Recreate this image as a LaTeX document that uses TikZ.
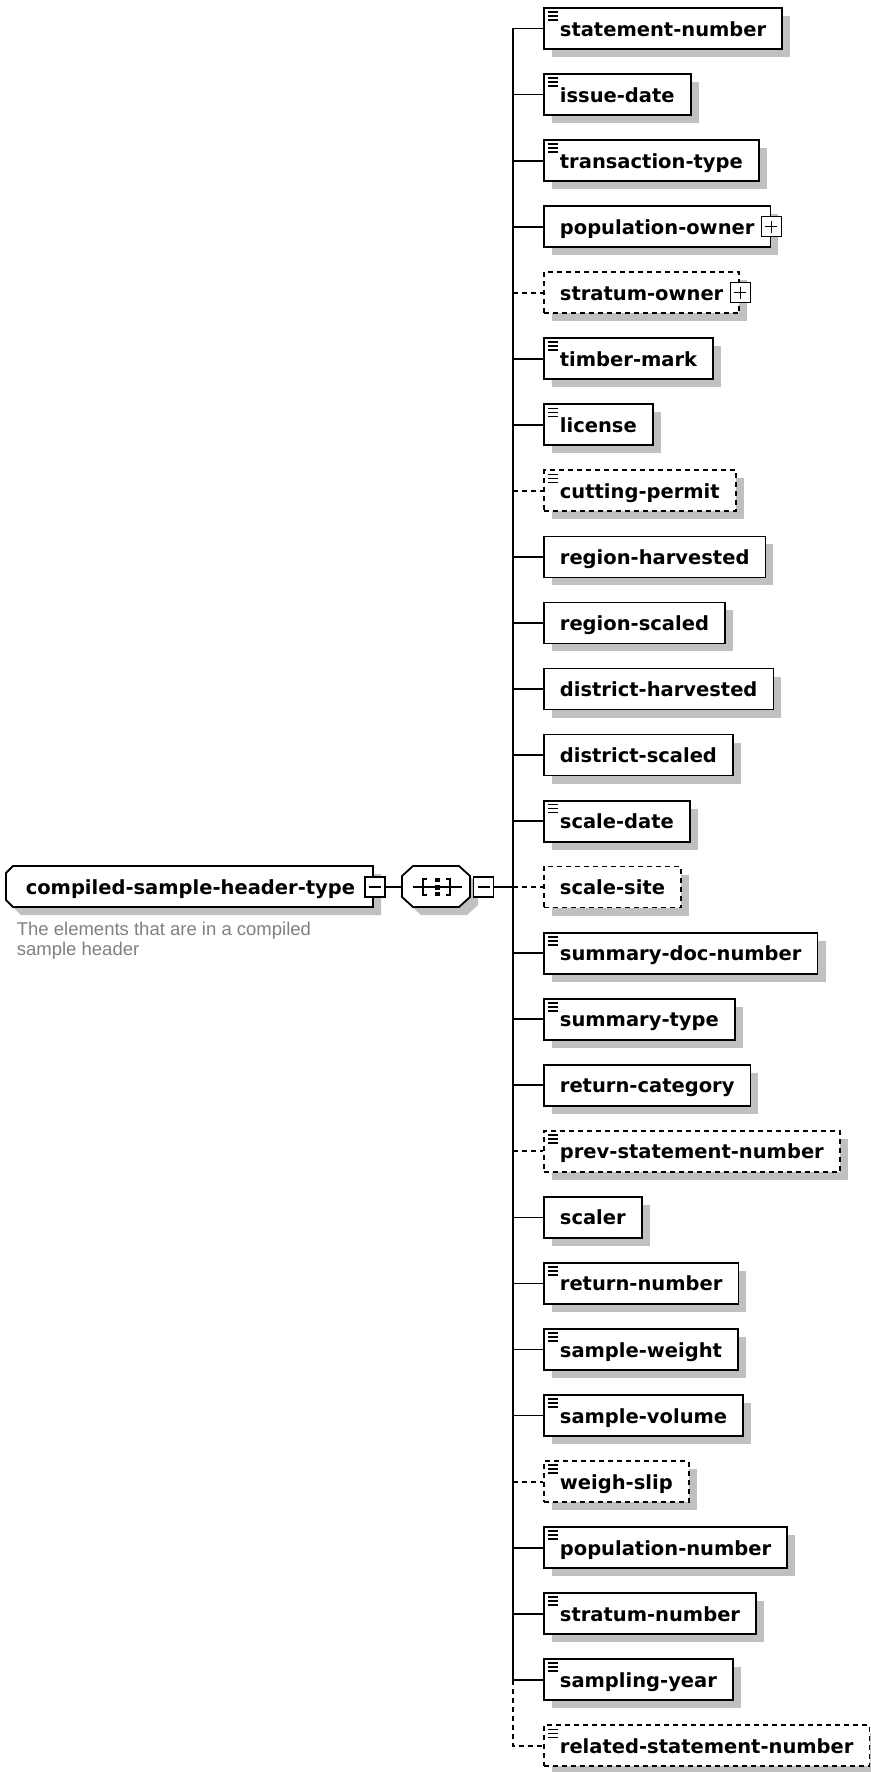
\documentclass[tikz,border=0pt]{standalone}
\usepackage{fontspec}
\setmainfont{DejaVu Sans}
\newfontfamily\notefont{Liberation Sans}
\usetikzlibrary{shadows,positioning}

\definecolor{shadowgray}{RGB}{192,192,192}
\definecolor{notegray}{RGB}{128,128,128}

\begin{document}
\begin{tikzpicture}[x=1pt,y=-1pt,line width=1.8pt,
    boxshadow/.style={drop shadow={shadow xshift=8pt,shadow yshift=-8pt,fill=shadowgray,opacity=1}},
    elem/.style={draw,fill=white,anchor=west,inner xsep=16pt,inner ysep=0pt,
      minimum height=41pt,text height=19pt,text depth=4pt,
      font=\fontsize{19.5}{22}\selectfont\bfseries,boxshadow},
    opt/.style={dash pattern=on 5pt off 4pt},
    doc/.style={path picture={\draw[line width=1.6pt,solid]
      ([shift={(4pt,-4pt)}]path picture bounding box.north west) -- ++(10pt,0pt)
      ([shift={(4pt,-8pt)}]path picture bounding box.north west) -- ++(10pt,0pt)
      ([shift={(4pt,-12pt)}]path picture bounding box.north west) -- ++(10pt,0pt);}},
    togglebox/.style={draw,fill=white,solid,line width=1.4pt,minimum size=20pt,inner sep=0pt},
    plusbox/.style={togglebox,path picture={\draw[line width=1.4pt]
      ([xshift=-6pt]path picture bounding box.center) -- ([xshift=6pt]path picture bounding box.center)
      ([yshift=-6pt]path picture bounding box.center) -- ([yshift=6pt]path picture bounding box.center);}},
    minusbox/.style={togglebox,path picture={\draw[line width=1.4pt]
      ([xshift=-6pt]path picture bounding box.center) -- ([xshift=6pt]path picture bounding box.center);}},
    typebox/.style={anchor=west,minimum width=367pt,minimum height=41pt,inner sep=0pt,
      text height=19pt,text depth=4pt,font=\fontsize{19.5}{22}\selectfont\bfseries},
    seqbox/.style={minimum width=68pt,minimum height=41pt,inner sep=0pt},
    note/.style={anchor=north west,inner sep=0pt,align=left,text=notegray,
      font=\notefont\fontsize{18.5}{20}\selectfont}
  ]
\useasboundingbox (0,0) rectangle (870,1772);

% complex type and its sequence
\fill[shadowgray] (21,874) -- (381,874) -- (381,915) -- (21,915) -- (14,908) -- (14,881) -- cycle;
\draw[fill=white] (13,866) -- (373,866) -- (373,907) -- (13,907) -- (6,900) -- (6,873) -- cycle;
\fill[shadowgray] (421,874) -- (467,874) -- (478,884) -- (478,905) -- (467,915) -- (421,915) -- (410,905) -- (410,884) -- cycle;
\draw[fill=white] (413,866) -- (459,866) -- (470,876) -- (470,897) -- (459,907) -- (413,907) -- (402,897) -- (402,876) -- cycle;
\node[typebox] (cshtype) at (6,887) {compiled-sample-header-type\hspace{16pt}};
\node[minusbox] (cshtypem) at (cshtype.east) {};
\node[note] (cshnote) at (16,921) {The elements that are in a compiled\\sample header};
\node[seqbox] (seq) at (436,887) {};
\node[minusbox,right=2pt of seq] (seqm) {};
\begin{scope}[shift={(seq.center)},line width=1.3pt]
  \draw (-23,0) -- (26,0);
  \draw (-9,-8) -- (-13,-8) -- (-13,8) -- (-9,8);
  \draw (10,-8) -- (14,-8) -- (14,8) -- (10,8);
  \fill (-1,-9) rectangle (4,-5);
  \fill (-1,-2.5) rectangle (4,2.5);
  \fill (-1,5) rectangle (4,9);
\end{scope}
\coordinate (spine) at (513,887);

% child elements
\node[elem,doc] (statement) at (543,28.5) {statement-number};
\node[elem,doc] (issue) at (543,94.55) {issue-date};
\node[elem,doc] (transaction) at (543,160.6) {transaction-type};
\node[elem] (popowner) at (543,226.65) {population-owner\hspace{11pt}};
\node[elem,opt] (stratowner) at (543,292.7) {stratum-owner\hspace{11pt}};
\node[elem,doc] (timber) at (543,358.75) {timber-mark};
\node[elem,doc] (license) at (543,424.8) {license};
\node[elem,doc,opt] (permit) at (543,490.85) {cutting-permit};
\node[elem] (regharv) at (543,556.9) {region-harvested};
\node[elem] (regscaled) at (543,622.95) {region-scaled};
\node[elem] (distharv) at (543,689) {district-harvested};
\node[elem] (distscaled) at (543,755.05) {district-scaled};
\node[elem,doc] (scaledate) at (543,821.1) {scale-date};
\node[elem,opt] (scalesite) at (543,887) {scale-site};
\node[elem,doc] (summarydoc) at (543,953.2) {summary-doc-number};
\node[elem,doc] (summarytype) at (543,1019.25) {summary-type};
\node[elem] (returncat) at (543,1085.3) {return-category};
\node[elem,doc,opt] (prevstmt) at (543,1151.35) {prev-statement-number};
\node[elem] (scaler) at (543,1217.4) {scaler};
\node[elem,doc] (returnno) at (543,1283.45) {return-number};
\node[elem,doc] (weight) at (543,1349.5) {sample-weight};
\node[elem,doc] (volume) at (543,1415.55) {sample-volume};
\node[elem,doc,opt] (weighslip) at (543,1481.6) {weigh-slip};
\node[elem,doc] (popno) at (543,1547.65) {population-number};
\node[elem,doc] (stratno) at (543,1613.7) {stratum-number};
\node[elem,doc] (year) at (543,1679.75) {sampling-year};
\node[elem,doc,opt] (related) at (543,1745.8) {related-statement-number};
\node[plusbox] (popownerp) at (popowner.east) {};
\node[plusbox] (stratownerp) at (stratowner.east) {};

% connectors
\draw (cshtypem) -- (seq);
\draw (seqm) -- (spine);
\draw (statement.west) -| (spine |- year.west);
\draw[opt] (spine |- year.west) |- (related.west);
\draw (spine |- issue.west) -- (issue.west)
      (spine |- transaction.west) -- (transaction.west)
      (spine |- popowner.west) -- (popowner.west)
      (spine |- timber.west) -- (timber.west)
      (spine |- license.west) -- (license.west)
      (spine |- regharv.west) -- (regharv.west)
      (spine |- regscaled.west) -- (regscaled.west)
      (spine |- distharv.west) -- (distharv.west)
      (spine |- distscaled.west) -- (distscaled.west)
      (spine |- scaledate.west) -- (scaledate.west)
      (spine |- summarydoc.west) -- (summarydoc.west)
      (spine |- summarytype.west) -- (summarytype.west)
      (spine |- returncat.west) -- (returncat.west)
      (spine |- scaler.west) -- (scaler.west)
      (spine |- returnno.west) -- (returnno.west)
      (spine |- weight.west) -- (weight.west)
      (spine |- volume.west) -- (volume.west)
      (spine |- popno.west) -- (popno.west)
      (spine |- stratno.west) -- (stratno.west)
      (spine |- year.west) -- (year.west);
\draw[opt] (spine |- stratowner.west) -- (stratowner.west)
      (spine |- permit.west) -- (permit.west)
      (spine |- scalesite.west) -- (scalesite.west)
      (spine |- prevstmt.west) -- (prevstmt.west)
      (spine |- weighslip.west) -- (weighslip.west);
\end{tikzpicture}
\end{document}
